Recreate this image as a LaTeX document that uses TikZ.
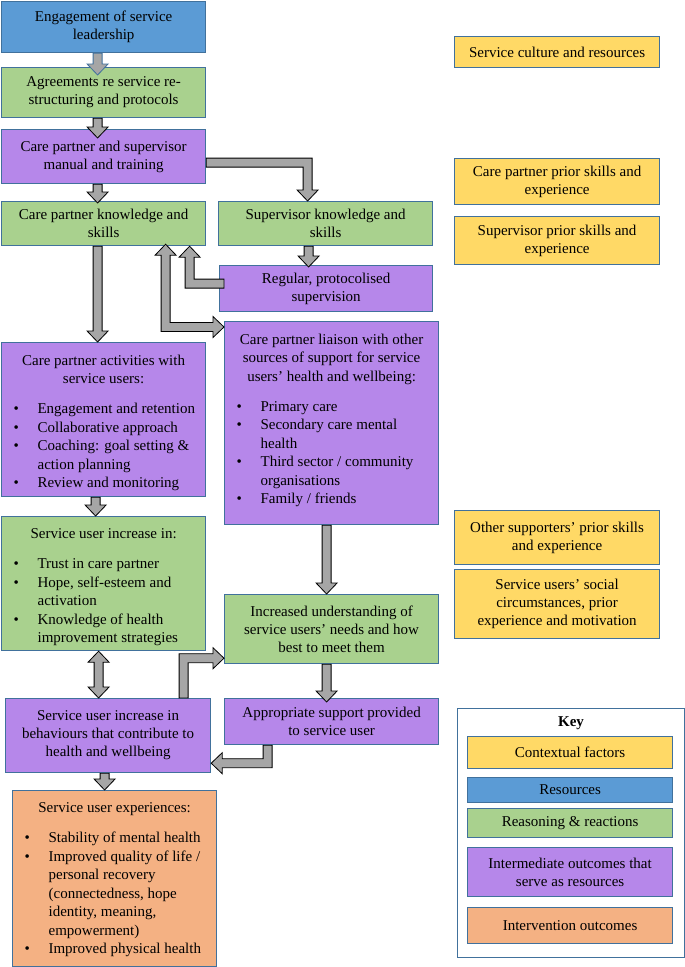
\documentclass[tikz,border=0pt]{standalone}
\usepackage{fontspec}
\setmainfont{Liberation Serif}
\usetikzlibrary{positioning, calc}
\definecolor{boxline}{RGB}{65,113,156}
\definecolor{resblue}{RGB}{91,155,213}
\definecolor{reasongreen}{RGB}{169,209,142}
\definecolor{interpurple}{RGB}{182,135,234}
\definecolor{outcomeorange}{RGB}{244,177,131}
\definecolor{contextyellow}{RGB}{255,217,102}
\definecolor{arrowgray}{RGB}{166,166,166}
\newcommand{\listtext}[3]{\begin{minipage}[c][#2][t]{#1}\fontsize{15}{18.5}\selectfont\raggedright #3\end{minipage}}
\newcommand{\listhead}[1]{{\centering #1\par}\vspace{11.5pt}}
\newcommand{\bitem}[1]{\par\noindent\hangindent=32pt\hangafter=1\makebox[32pt][l]{\hspace{8pt}\textbullet}#1}

\begin{document}
\begin{tikzpicture}[x=1pt, y=-1pt,
        box/.style={draw=boxline, line width=1.2pt, anchor=north west, font=\fontsize{15}{18}\selectfont},
        textbox/.style={box, align=center, inner sep=2pt},
        listbox/.style={box, inner xsep=4pt, inner ysep=12pt},
        fat/.style={draw=black, fill=arrowgray, line width=0.8pt},
        fatdown/.style={fat, to path={let \p1=(\tikztostart), \p2=(\tikztotarget) in
            ({\x1-4.5pt},\y1) -- ({\x1-4.5pt},{\y2+11pt}) -- ({\x1-10.5pt},{\y2+11pt}) -- (\x1,\y2)
            -- ({\x1+10.5pt},{\y2+11pt}) -- ({\x1+4.5pt},{\y2+11pt}) -- ({\x1+4.5pt},\y1) -- cycle}},
        fatupdown/.style={fat, to path={let \p1=(\tikztostart), \p2=(\tikztotarget) in
            (\x1,\y1) -- ({\x1+10.5pt},{\y1-11pt}) -- ({\x1+4.5pt},{\y1-11pt}) -- ({\x1+4.5pt},{\y2+11pt})
            -- ({\x1+10.5pt},{\y2+11pt}) -- (\x1,\y2) -- ({\x1-10.5pt},{\y2+11pt}) -- ({\x1-4.5pt},{\y2+11pt})
            -- ({\x1-4.5pt},{\y1-11pt}) -- ({\x1-10.5pt},{\y1-11pt}) -- cycle}},
        fatrd/.style={fat, to path={let \p1=(\tikztostart), \p2=(\tikztotarget) in
            (\x1,{\y1+4.5pt}) -- ({\x2+4.5pt},{\y1+4.5pt}) -- ({\x2+4.5pt},{\y2+11pt}) -- ({\x2+10.5pt},{\y2+11pt})
            -- (\x2,\y2) -- ({\x2-10.5pt},{\y2+11pt}) -- ({\x2-4.5pt},{\y2+11pt}) -- ({\x2-4.5pt},{\y1-4.5pt})
            -- (\x1,{\y1-4.5pt}) -- cycle}},
        fatlu/.style={fat, to path={let \p1=(\tikztostart), \p2=(\tikztotarget) in
            (\x1,{\y1+4.5pt}) -- ({\x2+4.5pt},{\y1+4.5pt}) -- ({\x2+4.5pt},{\y2-11pt}) -- ({\x2+10.5pt},{\y2-11pt})
            -- (\x2,\y2) -- ({\x2-10.5pt},{\y2-11pt}) -- ({\x2-4.5pt},{\y2-11pt}) -- ({\x2-4.5pt},{\y1-4.5pt})
            -- (\x1,{\y1-4.5pt}) -- cycle}},
        fatur/.style={fat, to path={let \p1=(\tikztostart), \p2=(\tikztotarget) in
            ({\x1-4.5pt},\y1) -- ({\x1-4.5pt},{\y2+4.5pt}) -- ({\x2-11pt},{\y2+4.5pt}) -- ({\x2-11pt},{\y2+10.5pt})
            -- (\x2,\y2) -- ({\x2-11pt},{\y2-10.5pt}) -- ({\x2-11pt},{\y2-4.5pt}) -- ({\x1+4.5pt},{\y2-4.5pt})
            -- ({\x1+4.5pt},\y1) -- cycle}},
        fatdl/.style={fat, to path={let \p1=(\tikztostart), \p2=(\tikztotarget) in
            ({\x1+4.5pt},\y1) -- ({\x1+4.5pt},{\y2-4.5pt}) -- ({\x2+11pt},{\y2-4.5pt}) -- ({\x2+11pt},{\y2-10.5pt})
            -- (\x2,\y2) -- ({\x2+11pt},{\y2+10.5pt}) -- ({\x2+11pt},{\y2+4.5pt}) -- ({\x1-4.5pt},{\y2+4.5pt})
            -- ({\x1-4.5pt},\y1) -- cycle}},
        fatupright/.style={fat, to path={let \p1=(\tikztostart), \p2=(\tikztotarget) in
            (\x1,\y1) -- ({\x1+10.5pt},{\y1-11pt}) -- ({\x1+4.5pt},{\y1-11pt}) -- ({\x1+4.5pt},{\y2+4.5pt})
            -- ({\x2-11pt},{\y2+4.5pt}) -- ({\x2-11pt},{\y2+10.5pt}) -- (\x2,\y2) -- ({\x2-11pt},{\y2-10.5pt})
            -- ({\x2-11pt},{\y2-4.5pt}) -- ({\x1-4.5pt},{\y2-4.5pt}) -- ({\x1-4.5pt},{\y1-11pt})
            -- ({\x1-10.5pt},{\y1-11pt}) -- cycle}}
    ]
        \useasboundingbox[fill=white] (0,0) rectangle (685,967);

        % Main chain, left column
        \node[textbox, fill=resblue, minimum width=204pt, minimum height=51pt] (lead) at (1,1) {Engagement of service\\leadership};
        \node[textbox, fill=reasongreen, minimum width=204pt, minimum height=50pt] (agree) at (1,67) {Agreements re service re-\\structuring and protocols};
        \node[textbox, fill=interpurple, minimum width=204pt, minimum height=54pt] (manual) at (1,129) {Care partner and supervisor\\manual and training};
        \node[textbox, fill=reasongreen, minimum width=204pt, minimum height=44pt] (cpks) at (1,201) {Care partner knowledge and\\skills};

        % Supervisor branch
        \node[textbox, fill=reasongreen, minimum width=214pt, minimum height=44pt] (supks) at (218,201) {Supervisor knowledge and\\skills};
        \node[textbox, fill=interpurple, minimum width=213pt, minimum height=46pt] (superv) at (219,265) {Regular, protocolised\\supervision};

        % Care partner activities
        \node[listbox, fill=interpurple, minimum width=204pt, minimum height=154pt] (activ) at (1,342) {\listtext{196pt}{130pt}{%
            \listhead{Care partner activities with\\service users:}
            \bitem{Engagement and retention}
            \bitem{Collaborative approach}
            \bitem{Coaching: goal setting \&\newline action planning}
            \bitem{Review and monitoring}}};

        % Liaison with other sources of support
        \node[listbox, fill=interpurple, minimum width=214pt, minimum height=203pt] (liaison) at (224,321) {\listtext{206pt}{179pt}{%
            \listhead{Care partner liaison with other\\sources of support for service\\users’ health and wellbeing:}
            \bitem{Primary care}
            \bitem{Secondary care mental\newline health}
            \bitem{Third sector / community\newline organisations}
            \bitem{Family / friends}}};

        % Service user changes
        \node[listbox, fill=reasongreen, minimum width=204pt, minimum height=134pt] (suinc) at (1,516) {\listtext{196pt}{110pt}{%
            \listhead{Service user increase in:}
            \bitem{Trust in care partner}
            \bitem{Hope, self-esteem and\newline activation}
            \bitem{Knowledge of health\newline improvement strategies}}};
        \node[textbox, fill=reasongreen, minimum width=214pt, minimum height=69pt] (underst) at (224,594) {Increased understanding of\\service users’ needs and how\\best to meet them};
        \node[textbox, fill=interpurple, minimum width=205pt, minimum height=74pt] (behav) at (5,698) {Service user increase in\\behaviours that contribute to\\health and wellbeing};
        \node[textbox, fill=interpurple, minimum width=214pt, minimum height=46pt] (approp) at (224,698) {Appropriate support provided\\to service user};

        % Outcomes
        \node[listbox, fill=outcomeorange, minimum width=204pt, minimum height=176pt] (exper) at (12,790) {\listtext{196pt}{152pt}{%
            \listhead{Service user experiences:}
            \bitem{Stability of mental health}
            \bitem{Improved quality of life /\newline personal recovery\newline (connectedness, hope\newline identity, meaning,\newline empowerment)}
            \bitem{Improved physical health}}};

        % Contextual factors, right column
        \node[textbox, fill=contextyellow, minimum width=205pt, minimum height=31pt] (culture) at (454,36) {Service culture and resources};
        \node[textbox, fill=contextyellow, minimum width=205pt, minimum height=46pt] (cpprior) at (454,158) {Care partner prior skills and\\experience};
        \node[textbox, fill=contextyellow, minimum width=205pt, minimum height=48pt] (svprior) at (454,216) {Supervisor prior skills and\\experience};
        \node[textbox, fill=contextyellow, minimum width=205pt, minimum height=54pt] (othersup) at (454,510) {Other supporters’ prior skills\\and experience};
        \node[textbox, fill=contextyellow, minimum width=205pt, minimum height=69pt] (susocial) at (454,569) {Service users’ social\\circumstances, prior\\experience and motivation};

        % Key
        \node[box, fill=white, minimum width=227pt, minimum height=249pt] (key) at (457,708) {};
        \node[font={\fontsize{15}{18}\selectfont\bfseries}] (keyhead) at (571,723) {Key};
        \node[textbox, fill=contextyellow, minimum width=205pt, minimum height=32pt] (kctx) at (467,736) {Contextual factors};
        \node[textbox, fill=resblue, minimum width=205pt, minimum height=25pt] (kres) at (467,777) {Resources};
        \node[textbox, fill=reasongreen, minimum width=205pt, minimum height=29pt] (kreas) at (467,808) {Reasoning \& reactions};
        \node[textbox, fill=interpurple, minimum width=205pt, minimum height=49pt] (kint) at (467,847) {Intermediate outcomes that\\serve as resources};
        \node[textbox, fill=outcomeorange, minimum width=205pt, minimum height=36pt] (kout) at (467,907) {Intervention outcomes};

        % Arrows
        \draw[fatdown, draw=boxline] ([xshift=-6pt]lead.south) to ([yshift=-8pt]agree.north);
        \draw[fatdown] ([xshift=-6pt]agree.south) to ([yshift=-9pt]manual.north);
        \draw[fatdown] ([xshift=-6pt]manual.south) to ([yshift=-2pt]cpks.north);
        \draw[fatrd] ([yshift=-6pt]manual.east) to ([xshift=-18pt]supks.north);
        \draw[fatdown] ([xshift=-17pt]supks.south) to ([yshift=-2pt]superv.north);
        \draw[fatlu] ([xshift=5pt,yshift=5pt]superv.west) to ([xshift=86pt]cpks.south);
        \draw[fatupright] ([xshift=62pt,yshift=2pt]cpks.south) to ([yshift=-6pt]liaison.north west);
        \draw[fatdown] ([xshift=-6pt]cpks.south) to (activ.north);
        \draw[fatdown] ([xshift=-8pt]activ.south) to (suinc.north);
        \draw[fatdown] ([xshift=-5pt]liaison.south) to (underst.north);
        \draw[fatupdown] ([xshift=-5pt]suinc.south) to (behav.north);
        \draw[fatur] ([xshift=75.5pt]behav.north) to ([yshift=6pt]underst.south west);
        \draw[fatdown] ([xshift=-5pt]underst.south) to ([yshift=-4pt]approp.north);
        \draw[fatdl] ([xshift=-64pt]approp.south) to ([yshift=10pt]behav.south east);
        \draw[fatdown] ([xshift=-3.5pt]behav.south) to (exper.north);
    \end{tikzpicture}
\end{document}
